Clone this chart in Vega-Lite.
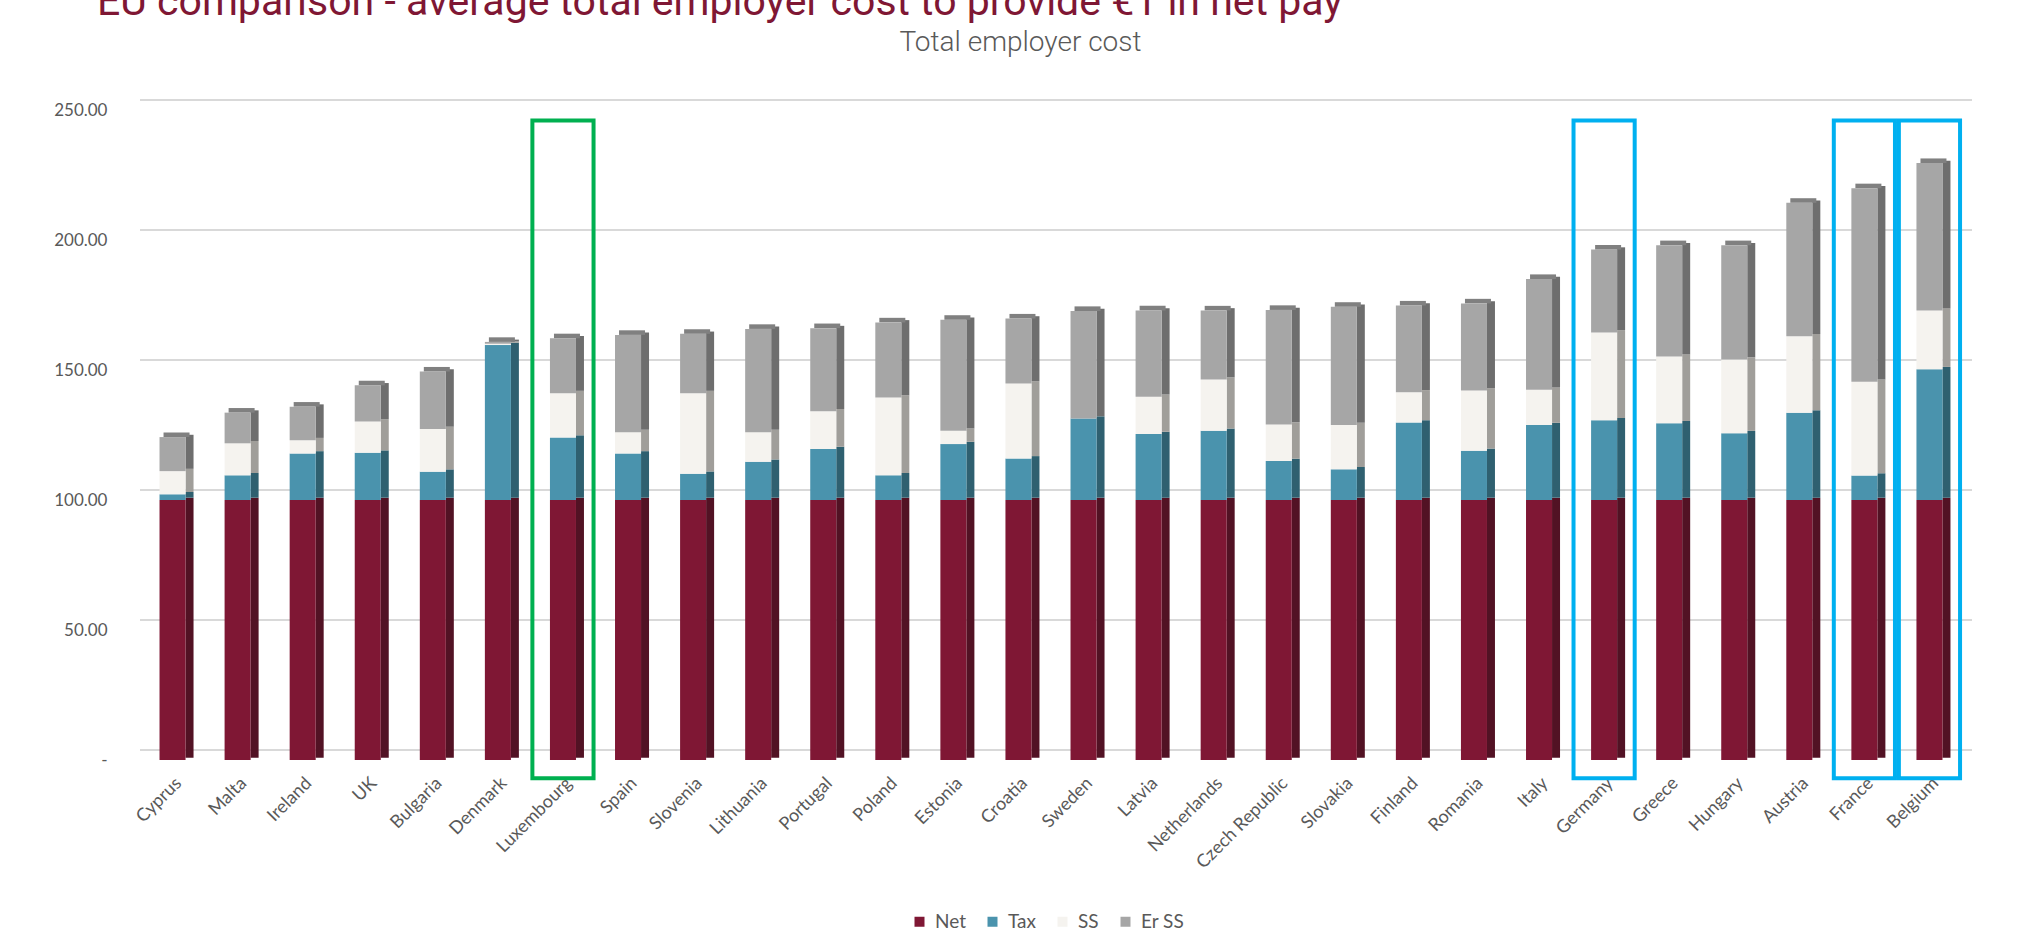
{
  "$schema": "https://vega.github.io/schema/vega-lite/v6.json",
  "width": 1822,
  "height": 650,
  "autosize": {"type": "none"},
  "padding": {"left": 140, "top": 110, "right": 75, "bottom": 190},
  "background": "white",
  "title": {
    "text": "EU comparison - average total employer cost to provide €1 in net pay",
    "anchor": "start",
    "frame": "group",
    "dx": -43,
    "dy": 31,
    "font": "Roboto",
    "fontSize": 41,
    "fontWeight": "normal",
    "color": "#7f1734",
    "baseline": "alphabetic",
    "offset": 3
  },
  "config": {"view": {"stroke": null}, "font": "Lato"},
  "datasets": {
    "costs": [
      {"country": "Cyprus", "Net": 100, "Tax": 2.2, "SS": 8.9, "Er SS": 13.1},
      {"country": "Malta", "Net": 100, "Tax": 9.5, "SS": 12.3, "Er SS": 11.8},
      {"country": "Ireland", "Net": 100, "Tax": 17.9, "SS": 5.1, "Er SS": 12.9},
      {"country": "UK", "Net": 100, "Tax": 18.2, "SS": 12.0, "Er SS": 13.9},
      {"country": "Bulgaria", "Net": 100, "Tax": 10.9, "SS": 16.4, "Er SS": 22.1},
      {"country": "Denmark", "Net": 100, "Tax": 59.6, "SS": 0.5, "Er SS": 0.7},
      {"country": "Luxembourg", "Net": 100, "Tax": 24.0, "SS": 17.1, "Er SS": 21.1},
      {"country": "Spain", "Net": 100, "Tax": 17.9, "SS": 8.2, "Er SS": 37.4},
      {"country": "Slovenia", "Net": 100, "Tax": 10.1, "SS": 31.0, "Er SS": 22.8},
      {"country": "Lithuania", "Net": 100, "Tax": 14.7, "SS": 11.4, "Er SS": 39.7},
      {"country": "Portugal", "Net": 100, "Tax": 19.6, "SS": 14.5, "Er SS": 32.0},
      {"country": "Poland", "Net": 100, "Tax": 9.5, "SS": 29.9, "Er SS": 28.9},
      {"country": "Estonia", "Net": 100, "Tax": 21.5, "SS": 5.1, "Er SS": 42.7},
      {"country": "Croatia", "Net": 100, "Tax": 16.0, "SS": 28.8, "Er SS": 25.0},
      {"country": "Sweden", "Net": 100, "Tax": 31.3, "SS": 0, "Er SS": 41.4},
      {"country": "Latvia", "Net": 100, "Tax": 25.4, "SS": 14.3, "Er SS": 33.2},
      {"country": "Netherlands", "Net": 100, "Tax": 26.6, "SS": 19.7, "Er SS": 26.6},
      {"country": "Czech Republic", "Net": 100, "Tax": 15.0, "SS": 14.0, "Er SS": 44.1},
      {"country": "Slovakia", "Net": 100, "Tax": 11.8, "SS": 17.0, "Er SS": 45.5},
      {"country": "Finland", "Net": 100, "Tax": 29.8, "SS": 11.6, "Er SS": 33.4},
      {"country": "Romania", "Net": 100, "Tax": 18.9, "SS": 23.2, "Er SS": 33.5},
      {"country": "Italy", "Net": 100, "Tax": 28.8, "SS": 13.6, "Er SS": 42.6},
      {"country": "Germany", "Net": 100, "Tax": 30.7, "SS": 33.7, "Er SS": 31.9},
      {"country": "Greece", "Net": 100, "Tax": 29.5, "SS": 25.7, "Er SS": 42.8},
      {"country": "Hungary", "Net": 100, "Tax": 25.7, "SS": 28.3, "Er SS": 44.0},
      {"country": "Austria", "Net": 100, "Tax": 33.6, "SS": 29.4, "Er SS": 51.3},
      {"country": "France", "Net": 100, "Tax": 9.4, "SS": 36.1, "Er SS": 74.4},
      {"country": "Belgium", "Net": 100, "Tax": 50.3, "SS": 22.6, "Er SS": 56.7}
    ],
    "grid": [{"level": 0}, {"level": 50}, {"level": 100}, {"level": 150}, {"level": 200}, {"level": 250}]
  },
  "layer": [
    {
      "data": {"name": "grid"},
      "mark": {"type": "rule", "color": "#d9d9d9", "strokeWidth": 2, "xOffset": 10, "x2Offset": 14, "yOffset": -10},
      "encoding": {
        "y": {
          "field": "level",
          "type": "quantitative",
          "scale": {"domain": [0, 250], "nice": false},
          "title": "Total employer cost",
          "axis": {
            "values": [0, 50, 100, 150, 200, 250],
            "labelExpr": "datum.value == 0 ? '-\u00a0\u00a0\u00a0' : format(datum.value, ',.2f')",
            "grid": false,
            "domain": false,
            "ticks": false,
            "labelPadding": 33,
            "labelFontSize": 17,
            "labelFont": "Lato",
            "labelColor": "#595959",
            "titleAngle": 0,
            "titleX": 880,
            "titleY": -60,
            "titleAlign": "center",
            "titleBaseline": "alphabetic",
            "titleFont": "Roboto",
            "titleFontSize": 28,
            "titleFontWeight": 300,
            "titleColor": "#595959"
          }
        }
      }
    },
    {
      "data": {"name": "costs"},
      "transform": [
        {"fold": ["Net", "Tax", "SS", "Er SS"], "as": ["component", "value"]},
        {"calculate": "indexof(['Net', 'Tax', 'SS', 'Er SS'], datum.component)", "as": "stack_order"}
      ],
      "encoding": {
        "x": {
          "field": "country",
          "type": "nominal",
          "sort": null,
          "title": null,
          "scale": {"paddingInner": 0.6, "paddingOuter": 0.3},
          "axis": {
            "labelAngle": -45,
            "labelFontSize": 18,
            "labelFont": "Lato",
            "labelColor": "#595959",
            "domain": false,
            "ticks": false,
            "labelPadding": 14
          }
        }
      },
      "resolve": {"scale": {"color": "independent"}},
      "layer": [
        {
          "mark": {"type": "bar", "width": 8, "xOffset": 17, "yOffset": -2.3},
          "encoding": {
            "y": {"field": "value", "type": "quantitative", "stack": "zero", "title": "Total employer cost"},
            "order": {"field": "stack_order", "type": "quantitative"},
            "color": {
              "field": "component",
              "type": "nominal",
              "scale": {"domain": ["Net", "Tax", "SS", "Er SS"], "range": ["#521224", "#2f6070", "#a09e9a", "#6e6e6e"]},
              "legend": null
            }
          }
        },
        {
          "transform": [{"aggregate": [{"op": "sum", "field": "value", "as": "total"}], "groupby": ["country"]}],
          "mark": {"type": "tick", "orient": "horizontal", "color": "#808080", "size": 26, "thickness": 4.6, "xOffset": 4, "yOffset": -2.3, "opacity": 1},
          "encoding": {
            "y": {"field": "total", "type": "quantitative", "title": "Total employer cost"}
          }
        },
        {
          "mark": {"type": "bar"},
          "encoding": {
            "y": {"field": "value", "type": "quantitative", "stack": "zero", "title": "Total employer cost"},
            "order": {"field": "stack_order", "type": "quantitative"},
            "color": {
              "field": "component",
              "type": "nominal",
              "scale": {"domain": ["Net", "Tax", "SS", "Er SS"], "range": ["#7f1734", "#4a93ad", "#f5f3ef", "#a6a6a6"]},
              "legend": {
                "title": null,
                "orient": "none",
                "legendX": 770,
                "legendY": 802,
                "direction": "horizontal",
                "symbolType": "square",
                "symbolSize": 100,
                "symbolStrokeWidth": 0,
                "labelFont": "Lato",
                "labelFontSize": 19,
                "labelColor": "#595959",
                "labelOffset": 6,
                "columnPadding": 17
              }
            }
          }
        },
        {
          "transform": [{"filter": "datum.component == 'Net' && datum.country == 'Luxembourg'"}],
          "mark": {"type": "bar", "fillOpacity": 0, "stroke": "#00b050", "strokeWidth": 4, "width": {"band": 2.35}},
          "encoding": {
            "y": {"datum": -7, "type": "quantitative", "title": "Total employer cost"},
            "y2": {"datum": 246}
          }
        },
        {
          "transform": [{"filter": "datum.component == 'Net' && (datum.country == 'Germany' || datum.country == 'France' || datum.country == 'Belgium')"}],
          "mark": {"type": "bar", "fillOpacity": 0, "stroke": "#00b0f0", "strokeWidth": 4, "width": {"band": 2.35}},
          "encoding": {
            "y": {"datum": -7, "type": "quantitative", "title": "Total employer cost"},
            "y2": {"datum": 246}
          }
        }
      ]
    }
  ]
}
